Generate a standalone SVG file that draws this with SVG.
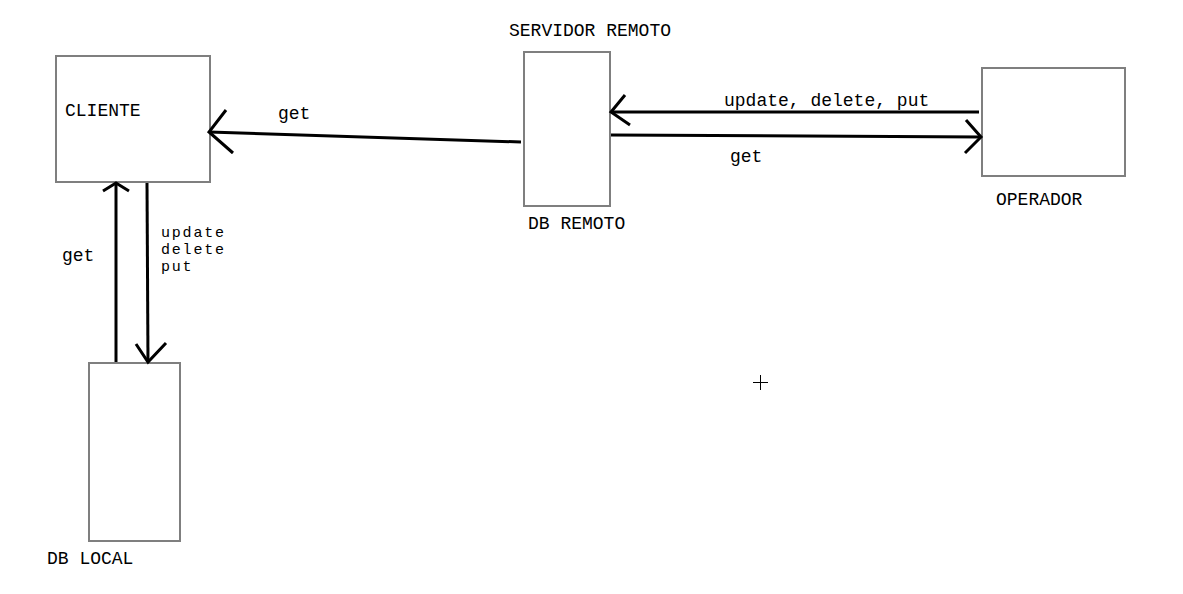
<svg xmlns="http://www.w3.org/2000/svg" width="1183" height="594" viewBox="0 0 1183 594">
<style>
.box{fill:#fff;stroke:#7f7f7f;stroke-width:2}
.t{font-family:"Liberation Mono","Courier New",monospace;font-size:18px;fill:#000}
.s{font-size:15px;letter-spacing:1.8px}
.c{fill:none;stroke:#000;stroke-width:3;stroke-linecap:butt;stroke-linejoin:miter}
</style>
<rect width="1183" height="594" fill="#fff"/>
<g id="cliente">
<rect class="box" x="56" y="56" width="154" height="126"/>
<text class="t" x="65" y="116">CLIENTE</text>
</g>
<g id="servidor">
<text class="t" x="509" y="36">SERVIDOR REMOTO</text>
<rect class="box" x="524" y="52" width="86" height="154"/>
<text class="t" x="528" y="229">DB REMOTO</text>
</g>
<g id="operador">
<rect class="box" x="982" y="68" width="143" height="108"/>
<text class="t" x="996" y="205">OPERADOR</text>
</g>
<g id="dblocal">
<rect class="box" x="89" y="363" width="91" height="178"/>
<text class="t" x="47" y="564">DB LOCAL</text>
</g>
<g id="connectors">
<path class="c" d="M521,142 L209,132"/>
<path class="c" d="M226,110 L209,132 L233,153"/>
<text class="t" x="278" y="119">get</text>
<path class="c" d="M979,112 L611,112"/>
<path class="c" d="M625,95 L611,112 L630,125"/>
<text class="t" x="724" y="106">update, delete, put</text>
<path class="c" d="M611,135 L981,137"/>
<path class="c" d="M966,120 L981,137 L965,153"/>
<text class="t" x="730" y="162">get</text>
<path class="c" d="M116,362 L116,183"/>
<path class="c" d="M103,191 L116,183 L129,191"/>
<text class="t" x="62" y="261">get</text>
<path class="c" d="M147,183 L148,362"/>
<path class="c" d="M136,344 L148,362 L166,343"/>
<text class="t s" x="161" y="237">update</text>
<text class="t s" x="161" y="254">delete</text>
<text class="t s" x="161" y="271">put</text>
</g>
<path d="M753,382.5 L768,382.5 M760.5,375 L760.5,390" stroke="#000" stroke-width="1" fill="none"/>
</svg>
